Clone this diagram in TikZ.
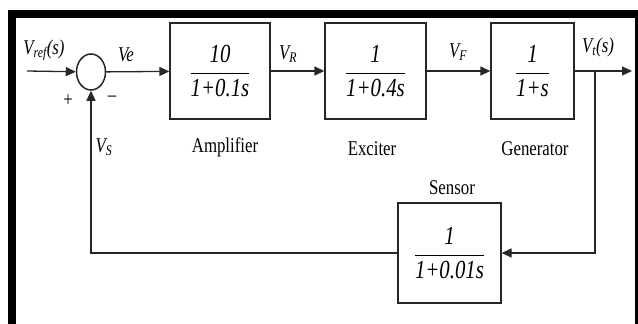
\documentclass[tikz,border=0pt]{standalone}
\usepackage{amsmath}
\usepackage{fontspec}
\setmainfont{Liberation Serif}[FakeStretch=0.8]
\usetikzlibrary{shapes.geometric, arrows.meta, positioning, calc}
\tikzset{
  tfblock/.style={rectangle,draw=black!85,line width=1.3pt,minimum width=100pt,
    minimum height=96pt,inner sep=0pt,font=\fontsize{26}{30}\selectfont},
  sumjunc/.style={ellipse,draw=black!85,line width=1.5pt,minimum width=29pt,
    minimum height=36pt,inner sep=0pt},
  sig/.style={font=\fontsize{21}{24}\selectfont\itshape},
  caption/.style={font=\fontsize{21}{24}\selectfont},
  arrow/.style={-{Triangle[length=10pt,width=9pt]},line width=1.3pt,draw=black!85}
}
\newcommand{\gainfrac}[2]{$\dfrac{\text{\itshape #1}}{\text{\itshape #2}}$}
\newcommand{\lsub}[1]{\textsubscript{#1}}

\begin{document}
\begin{tikzpicture}[x=1pt,y=-1pt]
  \useasboundingbox (0,0) rectangle (638,324);
  % frame
  \fill (8,10) rectangle (638,18);
  \fill (8,10) rectangle (16,324);
  \fill (635,10) rectangle (638,324);

  \coordinate (in) at (27,71);
  \node[sumjunc] (sum) at (91,72) {};
  \node[tfblock] (amp) at (220,71) {\gainfrac{10}{1+0.1s}};
  \node[tfblock, minimum width=101pt] (exc) at (375.5,71) {\gainfrac{1}{1+0.4s}};
  \node[tfblock, minimum width=83pt] (gen) at (532.5,71) {\gainfrac{1}{1+s}};
  \node[tfblock, minimum width=103pt, minimum height=100pt]
    (sens) at (449.5,253) {\gainfrac{1}{1+0.01s}};
  \coordinate (br) at (595,71);
  \coordinate (out) at (632,71);

  % captions
  \node[caption] at (225,147) {Amplifier};
  \node[caption] at (372,149) {Exciter};
  \node[caption] at (535,149) {Generator};
  \node[caption] at (452,188) {Sensor};

  % signals
  \node[sig] at (44,50) {V\lsub{ref}(s)};
  \node[sig] at (126,55) {Ve};
  \node[sig] at (288,54) {V\lsub{R}};
  \node[sig] at (458,52) {V\lsub{F}};
  \node[sig] at (598,47) {V\lsub{t}(s)};
  \node[sig] at (104,147) {V\lsub{S}};
  \node[caption] at (68,101) {+};
  \node[caption] at (112,99) {\textendash};

  \draw[arrow] (in) -- (sum);
  \draw[arrow] (sum) -- (amp);
  \draw[arrow] (amp) -- (exc);
  \draw[arrow] (exc) -- (gen);
  \draw[arrow] (gen) -- (out);
  \draw[arrow] (br) |- (sens);
  \draw[arrow] (sens) -| (sum);
\end{tikzpicture}
\end{document}
